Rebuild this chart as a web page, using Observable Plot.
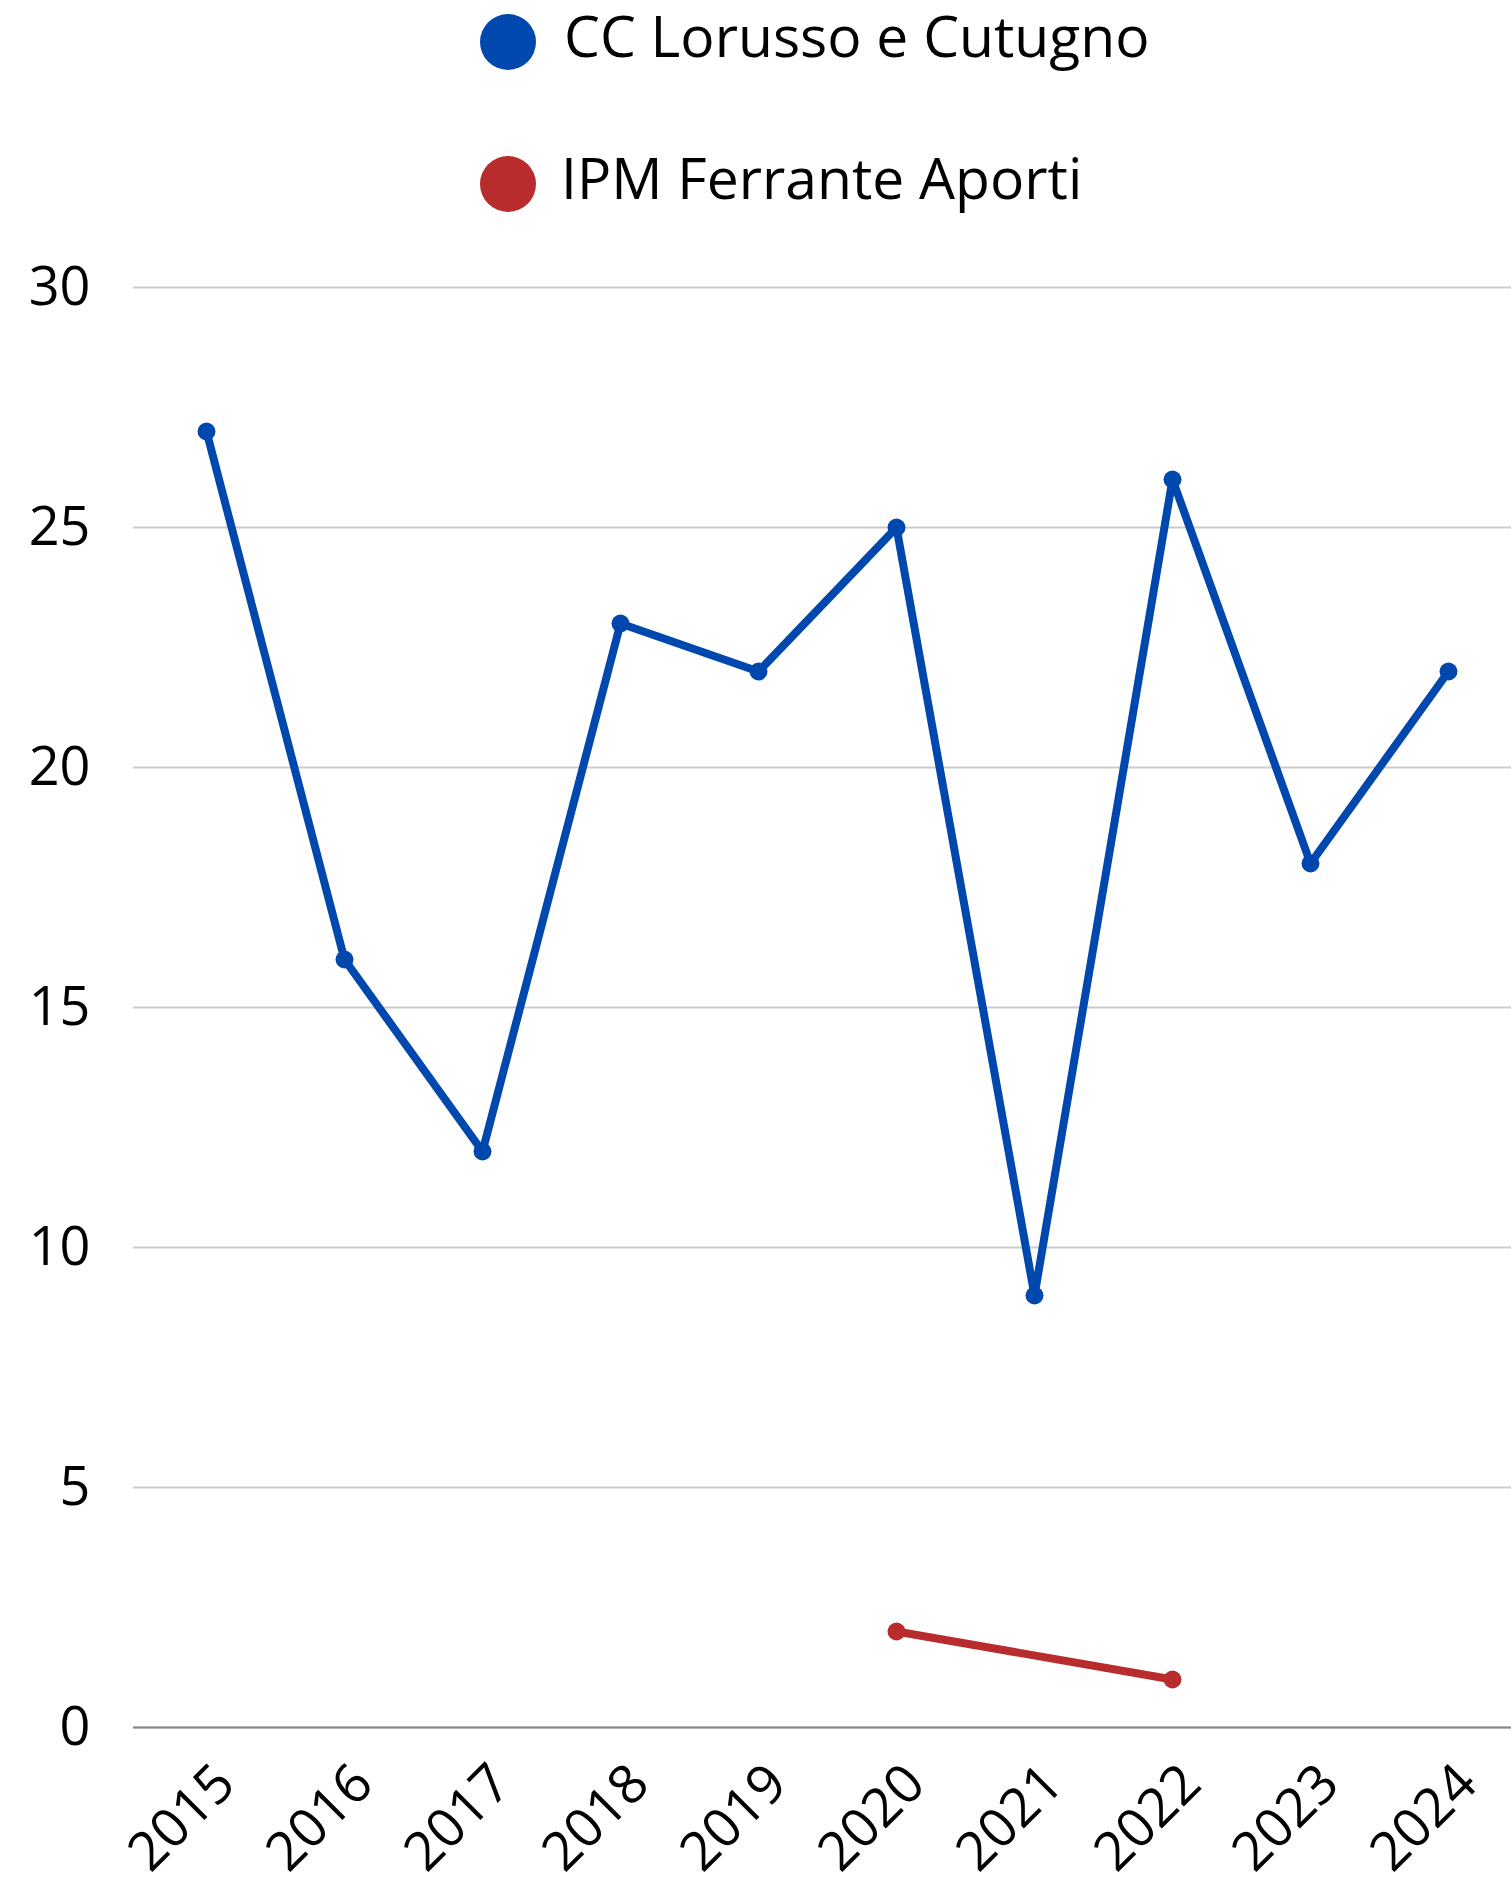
<!DOCTYPE html>
<html><head><meta charset="utf-8">
<script src="https://cdn.jsdelivr.net/npm/d3@7"></script>
<script src="https://cdn.jsdelivr.net/npm/@observablehq/plot@0.6"></script>
<style>
body{margin:0;background:#fff;font-family:"Open Sans",sans-serif;}
#legend{position:relative;width:1511px;height:225px;}
.dot{position:absolute;width:56px;height:56px;border-radius:50%;}
.lab{position:absolute;font-family:"Open Sans";font-size:57px;line-height:57px;color:#000;white-space:nowrap;}
#chart svg{display:block;}
</style></head>
<body>
<div id="legend"></div>
<div id="chart"></div>
<script>
const years = ["2015","2016","2017","2018","2019","2020","2021","2022","2023","2024"];
const ccValues = [27,16,12,23,22,25,9,26,18,22];
const ipmYears = ["2020","2022"];
const ipmValues = [2,1];
const seriesNames = ["CC Lorusso e Cutugno","IPM Ferrante Aporti"];
const seriesColors = ["#0048AD","#B82C2D"];
const yTicks = [0,5,10,15,20,25,30];

// legend (HTML)
const legend = d3.select("#legend");
const legCenterY = [42,184];
const legTextX = [564,561];
seriesNames.forEach((name,i)=>{
  legend.append("div").attr("class","dot")
    .style("left",(508-28)+"px").style("top",(legCenterY[i]-28)+"px")
    .style("background",seriesColors[i]);
  legend.append("div").attr("class","lab")
    .style("left",legTextX[i]+"px").style("top",(legCenterY[i]+16-51)+"px")
    .text(name);
});

const data = [
  ...years.map((y,i)=>({year:y, value:ccValues[i], series:seriesNames[0]})),
  ...ipmYears.map((y,i)=>({year:y, value:ipmValues[i], series:seriesNames[1]}))
];

const chart = Plot.plot({
  width:1511, height:1657,
  marginLeft:133, marginRight:0, marginTop:62, marginBottom:155,
  style:{fontFamily:"Open Sans", fontSize:"54px", color:"#000", background:"#fff"},
  x:{type:"point", domain:years, range:[203,1451], padding:0},
  y:{domain:[0,30]},
  color:{domain:seriesNames, range:seriesColors},
  marks:[
    Plot.gridY(yTicks,{stroke:"#cccccc", strokeOpacity:1, strokeWidth:2}),
    Plot.axisY(yTicks,{tickSize:0, tickPadding:43, fontSize:54, label:null}),
    Plot.axisX({tickSize:0, tickRotate:-45, tickPadding:47, dx:19, fontSize:54, label:null}),
    Plot.ruleY([0],{stroke:"#888888", strokeWidth:2}),
    Plot.line(data,{x:"year", y:"value", z:"series", stroke:"series", strokeWidth:8}),
    Plot.dot(data,{x:"year", y:"value", fill:"series", r:9})
  ]
});
document.getElementById("chart").appendChild(chart);
</script>
</body></html>
